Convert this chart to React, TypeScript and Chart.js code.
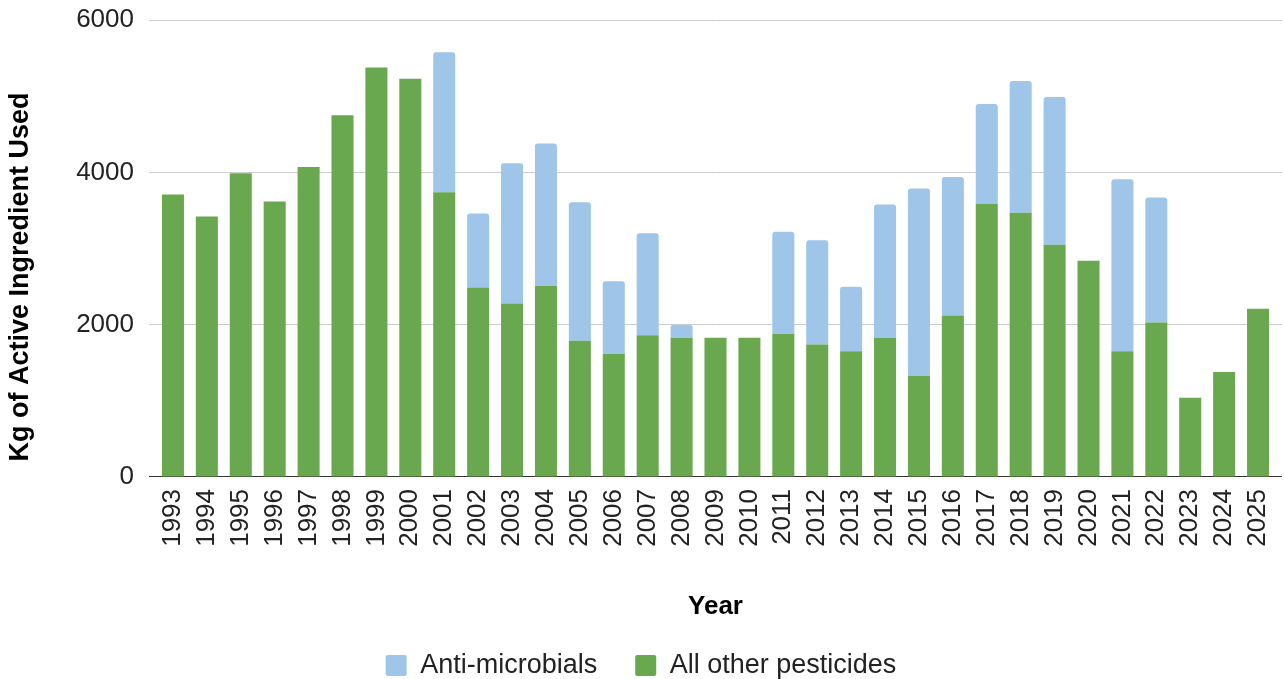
import React, { useEffect, useRef } from "react";
import { Chart, registerables } from "chart.js";

Chart.register(...registerables);

const years = [
  "1993", "1994", "1995", "1996", "1997", "1998", "1999", "2000", "2001", "2002", "2003",
  "2004", "2005", "2006", "2007", "2008", "2009", "2010", "2011", "2012", "2013", "2014",
  "2015", "2016", "2017", "2018", "2019", "2020", "2021", "2022", "2023", "2024", "2025",
];

const otherPesticides = [
  3710, 3420, 3990, 3620, 4070, 4750, 5380, 5230, 3740, 2490, 2280,
  2510, 1790, 1620, 1860, 1830, 1830, 1830, 1880, 1740, 1650, 1830,
  1330, 2120, 3590, 3470, 3050, 2840, 1650, 2030, 1040, 1380, 2210,
];

const antiMicrobials = [
  null, null, null, null, null, null, null, null, 1840, 970, 1840,
  1870, 1820, 950, 1340, 170, null, null, 1340, 1370, 850, 1750,
  2460, 1820, 1310, 1730, 1940, null, 2260, 1640, null, null, null,
];

const yTicks = [0, 2000, 4000, 6000];

const yTitle = "Kg of Active Ingredient Used";
const xTitle = "Year";

const FONT = "'Liberation Sans', Arial, Helvetica, sans-serif";

const yTitlePlugin = {
  id: "yTitlePlugin",
  afterDraw(chart: any) {
    const ctx = chart.ctx;
    ctx.save();
    ctx.translate(21, 277);
    ctx.rotate(-Math.PI / 2);
    ctx.textAlign = "center";
    ctx.textBaseline = "middle";
    ctx.fillStyle = "#000000";
    ctx.font = `bold 27px ${FONT}`;
    ctx.fillText(yTitle, 0, 0);
    ctx.restore();
  },
};

export default function App() {
  const ref = useRef<HTMLCanvasElement | null>(null);

  useEffect(() => {
    if (!ref.current) return;
    const gridColor = (ctx: any) => (ctx.tick && ctx.tick.value === 0 ? "#333333" : "#cccccc");
    const chart = new Chart(ref.current, {
      type: "bar",
      data: {
        labels: years,
        datasets: [
          {
            label: "All other pesticides",
            data: otherPesticides,
            backgroundColor: "#6aa84f",
            borderWidth: 0,
            borderRadius: 0,
            stack: "s",
          },
          {
            label: "Anti-microbials",
            data: antiMicrobials as any,
            backgroundColor: "#9fc5e8",
            borderWidth: 0,
            borderRadius: { topLeft: 3, topRight: 3, bottomLeft: 0, bottomRight: 0 },
            borderSkipped: "start",
            stack: "s",
          },
        ],
      },
      plugins: [yTitlePlugin],
      options: {
        animation: false,
        responsive: false,
        categoryPercentage: 1,
        barPercentage: 0.65,
        layout: { padding: { top: 0, right: 2, left: 0, bottom: -10 } },
        plugins: {
          tooltip: { enabled: false },
          legend: {
            position: "bottom",
            reverse: true,
            labels: {
              boxWidth: 21,
              boxHeight: 21,
              padding: 38,
              useBorderRadius: true,
              borderRadius: 2,
              color: "#222222",
              font: { family: FONT, size: 27 },
            },
          },
        },
        scales: {
          x: {
            stacked: true,
            grid: { display: false },
            border: { display: false },
            ticks: {
              autoSkip: false,
              minRotation: 90,
              maxRotation: 90,
              padding: 4,
              color: "#222222",
              font: { family: FONT, size: 26, lineHeight: 0.75 },
            },
            title: {
              display: true,
              text: xTitle,
              color: "#000000",
              font: { family: FONT, size: 26, weight: "bold" },
              padding: { top: 40, bottom: -8 },
            },
          },
          y: {
            stacked: true,
            min: 0,
            max: 6000,
            afterBuildTicks: (axis: any) => {
              axis.ticks = yTicks.map((v) => ({ value: v }));
            },
            afterFit: (axis: any) => {
              axis.width = 156;
            },
            grid: { color: gridColor, lineWidth: 1, tickLength: 7 },
            border: { display: false },
            ticks: {
              padding: 15,
              color: "#222222",
              font: { family: FONT, size: 26, lineHeight: 0.4 },
              callback: (v: any) => String(v),
            },
            title: { display: false },
          },
          y2: {
            type: "linear",
            position: "right",
            min: 0,
            max: 6000,
            afterBuildTicks: (axis: any) => {
              axis.ticks = yTicks.map((v) => ({ value: v }));
            },
            grid: { color: gridColor, lineWidth: 1, tickLength: 7, drawOnChartArea: false },
            border: { display: false },
            ticks: { display: false },
          },
        },
      } as any,
    });
    return () => chart.destroy();
  }, []);

  return (
    <div style={{ position: "fixed", left: 0, top: 0, width: 1284, height: 679, background: "#ffffff" }}>
      <canvas ref={ref} width={1284} height={679} />
    </div>
  );
}
